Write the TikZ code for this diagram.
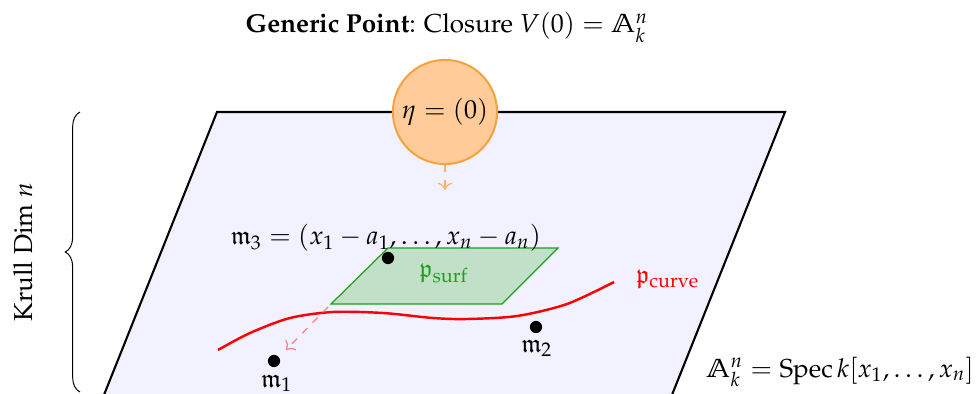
\documentclass[tikz,border=0pt]{standalone}
\usepackage[T1]{fontenc}
\usepackage{mathpazo}
\usepackage{amssymb}
\usetikzlibrary{decorations.pathreplacing,arrows.meta}
\definecolor{planefill}{RGB}{241,241,255}
\definecolor{surffill}{RGB}{194,224,200}
\definecolor{surfdraw}{RGB}{30,160,30}
\definecolor{etadraw}{RGB}{247,160,60}
\tikzset{
  planebox/.style={draw=black, line width=0.85pt, fill=planefill},
  ptdot/.style={circle, fill=black, inner sep=0pt, minimum size=5pt},
  txt/.style={anchor=base, inner sep=0pt, font=\fontsize{10.6pt}{13pt}\selectfont},
  etanode/.style={circle, draw=etadraw, line width=0.8pt, fill=orange!40, minimum size=42.5pt, inner sep=0pt, font=\fontsize{10.6pt}{13pt}\selectfont},
}
\begin{document}
\begin{tikzpicture}[x=0.408pt, y=-0.408pt]
\useasboundingbox (0,0) rectangle (979,394);
\clip (0,0) rectangle (979,394);
% plane
\coordinate (pTL) at (217,112);
\coordinate (pTR) at (785,112);
\coordinate (pBR) at (640,475);
\coordinate (pBL) at (72,475);
\draw[planebox] (pBL) -- (pTL) -- (pTR) -- (pBR) -- cycle;
% brace and Krull dim
\coordinate (brB) at (80,392);
\coordinate (brT) at (80,112);
\draw[decorate, decoration={brace, amplitude=6pt}, line width=0.4pt] (brB) -- (brT);
\node[txt, rotate=90] (krull) at (32,252) {Krull Dim $n$};
% title
\node[txt] (title) at (447,33) {\textbf{Generic Point}: Closure $V(0)=\mathbb{A}^n_k$};
% surface
\coordinate (sTL) at (388,248);
\coordinate (sTR) at (558,248);
\coordinate (sBR) at (502,304);
\coordinate (sBL) at (331,304);
\draw[fill=surffill, draw=surfdraw, line width=0.5pt] (sBL) -- (sTL) -- (sTR) -- (sBR) -- cycle;
\node[txt, text=surfdraw] (psurf) at (444,277) {$\mathfrak{p}_{\mathrm{surf}}$};
% curve
\draw[red, line width=1pt] plot[smooth] coordinates {(218,350) (250,333) (290,318) (333,312) (383,313) (433,318) (467,319) (517,316) (567,304) (614,282)};
\node[txt, text=red] (pcurve) at (668,284) {$\mathfrak{p}_{\mathrm{curve}}$};
% generic point
\node[etanode] (eta) at (445,112) {$\eta=(0)$};
\coordinate (etaend) at (445,190);
\draw[orange!60, dashed, line width=0.5pt, -{To[length=3pt,width=6pt]}] (eta.south) -- (etaend);
% m3
\node[txt] (m3lbl) at (386,245) {$\mathfrak{m}_3=(x_1-a_1,\ldots,x_n-a_n)$};
\node[ptdot] (m3) at (388,258) {};
% m1, m2
\node[ptdot] (m1) at (274,361) {};
\node[txt] (m1lbl) at (277,387) {$\mathfrak{m}_1$};
\node[ptdot] (m2) at (536,327) {};
\node[txt] (m2lbl) at (537,352) {$\mathfrak{m}_2$};
% dashed red arrow
\coordinate (dstart) at (328,307);
\coordinate (dend) at (286,350);
\draw[red!50, dashed, line width=0.5pt, -{To[length=3pt,width=6pt]}] (dstart) -- (dend);
% spec
\node[txt] (spec) at (840,377) {$\mathbb{A}^n_k=\mathrm{Spec}\,k[x_1,\ldots,x_n]$};
\end{tikzpicture}
\end{document}
